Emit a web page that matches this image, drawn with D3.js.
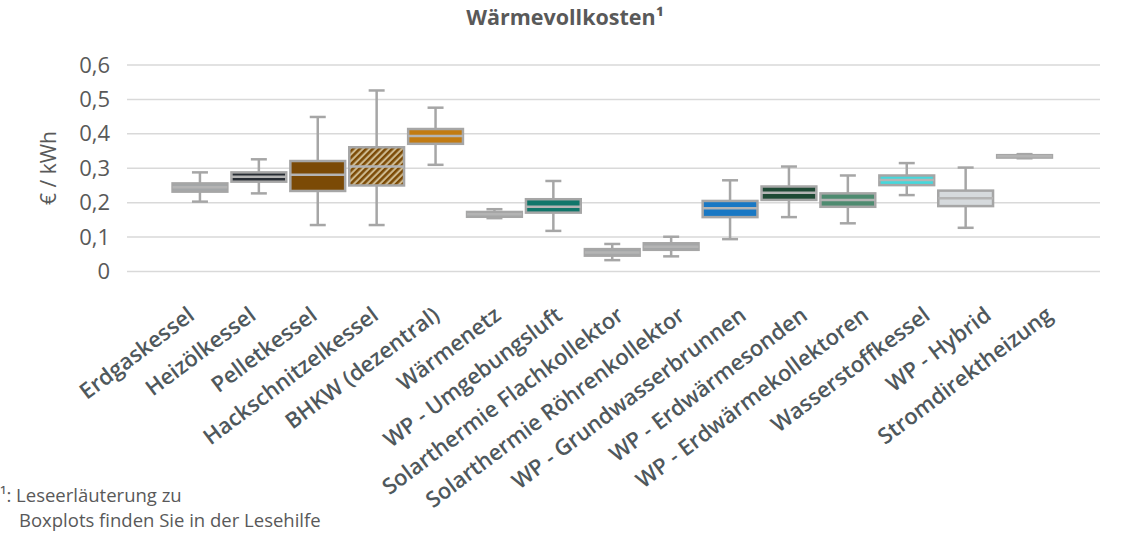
<!DOCTYPE html>
<html>
<head>
<meta charset="utf-8">
<script src="https://cdn.jsdelivr.net/npm/d3@7"></script>
<style>
  body { margin: 0; background: #fff; }
  text { font-family: "Open Sans", sans-serif; fill: #595959; }
</style>
</head>
<body>
<div id="chart"></div>
<script>
// Categories and box-plot statistics (€ / kWh)
const categories = [
  'Erdgaskessel', 'Heizölkessel', 'Pelletkessel', 'Hackschnitzelkessel',
  'BHKW (dezentral)', 'Wärmenetz', 'WP - Umgebungsluft',
  'Solarthermie Flachkollektor', 'Solarthermie Röhrenkollektor',
  'WP - Grundwasserbrunnen', 'WP - Erdwärmesonden', 'WP - Erdwärmekollektoren',
  'Wasserstoffkessel', 'WP - Hybrid', 'Stromdirektheizung'
];
const mins    = [0.203, 0.227, 0.135, 0.135, 0.310, 0.155, 0.118, 0.033, 0.044, 0.094, 0.158, 0.140, 0.222, 0.127, 0.329];
const q1s     = [0.232, 0.261, 0.234, 0.250, 0.371, 0.159, 0.171, 0.046, 0.063, 0.158, 0.208, 0.188, 0.251, 0.190, 0.331];
const medians = [0.245, 0.275, 0.281, 0.305, 0.394, 0.166, 0.188, 0.055, 0.072, 0.184, 0.229, 0.208, 0.266, 0.213, 0.335];
const q3s     = [0.256, 0.288, 0.321, 0.361, 0.414, 0.173, 0.210, 0.065, 0.082, 0.205, 0.247, 0.227, 0.279, 0.235, 0.338];
const maxs    = [0.288, 0.326, 0.449, 0.526, 0.476, 0.181, 0.263, 0.080, 0.101, 0.265, 0.305, 0.279, 0.315, 0.302, 0.341];
const yTicks  = [0, 0.1, 0.2, 0.3, 0.4, 0.5, 0.6];

// fill colours per category ('hatch' = striped pattern)
const colors = ['#a4a7a9', '#272c33', '#7b4a06', 'hatch', '#c27b12', '#a4a7a9', '#10766a',
  '#a4a7a9', '#a4a7a9', '#1978c4', '#1f4a35', '#4e8b70', '#45d8dc', '#d6dadd', '#a4a7a9'];

const data = categories.map((c, i) => ({
  cat: c, min: mins[i], q1: q1s[i], med: medians[i], q3: q3s[i], max: maxs[i], color: colors[i]
}));

const width = 1132, height = 540;
const gridLeft = 127, gridRight = 1100;

const svg = d3.select('#chart').append('svg')
  .attr('width', width)
  .attr('height', height);

// hatch pattern for Hackschnitzelkessel
const pat = svg.append('defs').append('pattern')
  .attr('id', 'hatch')
  .attr('patternUnits', 'userSpaceOnUse')
  .attr('width', 4.6)
  .attr('height', 4.6)
  .attr('patternTransform', 'rotate(45)');
pat.append('rect').attr('width', 4.6).attr('height', 4.6).attr('fill', '#cdb98f');
pat.append('rect').attr('width', 2.5).attr('height', 4.6).attr('fill', '#7b4a06');

const x = d3.scaleBand().domain(categories).range([170.5, 1054]).padding(0);
const y = d3.scaleLinear().domain([0, 0.6]).range([271.5, 65]);
// the rotated labels sit on a slightly wider spacing than the boxes
const xLabel = d3.scalePoint().domain(categories).range([196, 1054]);

// gridlines
svg.append('g').selectAll('line')
  .data(yTicks)
  .enter().append('line')
  .attr('x1', gridLeft).attr('x2', gridRight)
  .attr('y1', d => y(d)).attr('y2', d => y(d))
  .attr('stroke', '#d9d9d9')
  .attr('stroke-width', 1.5);

// y axis tick labels
const yAxis = svg.append('g')
  .attr('transform', 'translate(110,0)')
  .call(d3.axisLeft(y).tickValues(yTicks).tickSize(0).tickPadding(0)
    .tickFormat(d => d === 0 ? '0' : d3.format('.1f')(d).replace('.', ',')));
yAxis.select('.domain').remove();
yAxis.selectAll('text')
  .attr('font-size', 22)
  .style('font-family', '"Open Sans", sans-serif')
  .attr('fill', '#595959');

// y axis title
svg.append('text')
  .attr('transform', 'translate(56,168) rotate(-90)')
  .attr('text-anchor', 'middle')
  .attr('font-size', 21)
  .text('€ / kWh');

// title
svg.append('text')
  .attr('x', 565)
  .attr('y', 25)
  .attr('text-anchor', 'middle')
  .attr('font-size', 21.5)
  .attr('font-weight', 'bold')
  .text('Wärmevollkosten¹');

// boxes
const bw = x.bandwidth() * 0.93;
const capW = 16;
const boxColor = '#a6a6a6';

const g = svg.append('g').selectAll('g')
  .data(data)
  .enter().append('g')
  .attr('transform', d => `translate(${x(d.cat) + x.bandwidth() / 2},0)`);

// whisker stems
g.append('line')
  .attr('x1', 0).attr('x2', 0)
  .attr('y1', d => y(d.max)).attr('y2', d => y(d.min))
  .attr('stroke', boxColor).attr('stroke-width', 2.5);

// caps
g.append('line')
  .attr('x1', -capW / 2).attr('x2', capW / 2)
  .attr('y1', d => y(d.max)).attr('y2', d => y(d.max))
  .attr('stroke', boxColor).attr('stroke-width', 2.5);
g.append('line')
  .attr('x1', -capW / 2).attr('x2', capW / 2)
  .attr('y1', d => y(d.min)).attr('y2', d => y(d.min))
  .attr('stroke', boxColor).attr('stroke-width', 2.5);

// box
g.append('rect')
  .attr('x', -bw / 2)
  .attr('width', bw)
  .attr('y', d => y(d.q3))
  .attr('height', d => y(d.q1) - y(d.q3))
  .attr('fill', d => d.color === 'hatch' ? 'url(#hatch)' : d.color)
  .attr('stroke', boxColor)
  .attr('stroke-width', 2.5);

// median
g.append('line')
  .attr('x1', -bw / 2).attr('x2', bw / 2)
  .attr('y1', d => y(d.med)).attr('y2', d => y(d.med))
  .attr('stroke', '#b4b4b4').attr('stroke-width', 2.5);

// category labels
svg.append('g').selectAll('text')
  .data(categories)
  .enter().append('text')
  .attr('transform', d => `translate(${xLabel(d)},318) rotate(-37)`)
  .attr('text-anchor', 'end')
  .attr('font-size', 22)
  .attr('font-weight', 600)
  .style('fill', '#4f585c')
  .text(d => d);

// footnote
svg.append('text')
  .attr('x', 0).attr('y', 502)
  .attr('font-size', 18.5)
  .text('¹: Leseerläuterung zu');
svg.append('text')
  .attr('x', 19).attr('y', 527)
  .attr('font-size', 18.5)
  .text('Boxplots finden Sie in der Lesehilfe');
</script>
</body>
</html>
